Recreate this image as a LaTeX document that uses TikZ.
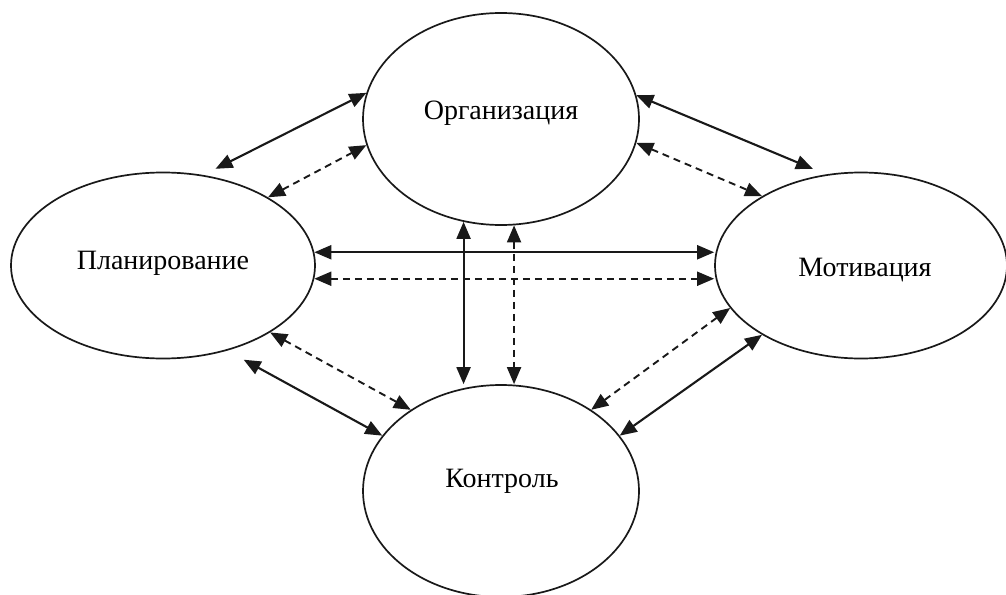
\documentclass[tikz,border=0pt]{standalone}
\usepackage{fontspec}
\setmainfont{Liberation Serif}
\usetikzlibrary{arrows.meta,shapes.geometric}
\begin{document}
\begin{tikzpicture}[x=1pt,y=-1pt,
  ell/.style={draw=black!90, line width=1.7pt, ellipse, inner sep=0pt},
  lbl/.style={anchor=base, inner sep=0pt, font=\fontsize{28}{32}\selectfont},
  tip/.tip={Triangle[length=17pt,width=14pt]},
  solidarr/.style={line width=2.1pt, draw=black!90, tip-tip},
  dasharr/.style={solidarr, line width=1.9pt, dash pattern=on 7pt off 5pt}
]
\useasboundingbox (0,0) rectangle (1006,594);
\fill[white] (0,0) rectangle (1006,594);

\node[ell, minimum width=276pt, minimum height=212pt] (O) at (501,119) {};
\node[ell, minimum width=304pt, minimum height=186pt] (P) at (163,265.5) {};
\node[ell, minimum width=292pt, minimum height=186pt] (M) at (861,265.5) {};
\node[ell, minimum width=276pt, minimum height=212pt] (K) at (501,491) {};

\node[lbl] (Ot) at (501,119) {Организация};
\node[lbl] (Pt) at (163,269) {Планирование};
\node[lbl] (Mt) at (865,276) {Мотивация};
\node[lbl] (Kt) at (502,487) {Контроль};

% Planning - Organization
\draw[solidarr, shorten <=13.7pt] (P.66.1) -- (O.169.4);
\draw[dasharr] (P.33.3) -- (O.191.0);
% Organization - Motivation
\draw[solidarr, shorten >=14.2pt] (O.10.8) -- (M.111.8);
\draw[dasharr] (O.-10.8) -- (M.145.7);
% Planning - Motivation
\draw[solidarr] (P.5) -- (P.5 -| M.west);
\draw[dasharr] (P.-5) -- (P.-5 -| M.west);
% Organization - Control
\draw[solidarr] (O.250.3) -- (O.250.3 |- K.north);
\draw[dasharr] (O.277.0) -- (O.277.0 |- K.north);
% Planning - Control
\draw[dasharr] (P.-32.9) -- (K.138.9);
\draw[solidarr, shorten <=18.8pt] (P.-53.6) -- (K.155.8);
% Motivation - Control
\draw[dasharr] (M.198.2) -- (K.42.1);
\draw[solidarr] (M.215.1) -- (K.25.2);
\end{tikzpicture}
\end{document}
